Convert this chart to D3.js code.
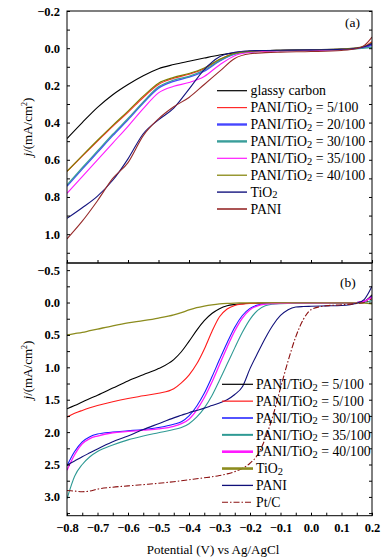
<!DOCTYPE html>
<html>
<head>
<meta charset="utf-8">
<script src="https://cdn.jsdelivr.net/npm/d3@7"></script>
<style>
  body { margin: 0; background: #fff; }
  svg { display: block; }
  svg text { font-family: "Liberation Serif", "Times New Roman", "DejaVu Serif", serif; }
</style>
</head>
<body>
<svg width="383" height="560"></svg>
<script>
// ---- data ----
// panel (a)
let potentialA = [-0.8,-0.75,-0.7,-0.65,-0.6,-0.55,-0.5,-0.45,-0.4,-0.35,-0.3,-0.25,-0.2,-0.15,-0.1,0,0.1,0.15,0.175,0.2];
let glassyA = [0.486,0.40,0.318,0.25,0.195,0.148,0.11,0.088,0.07,0.053,0.037,0.025,0.017,0.013,0.011,0.008,0.005,0.0,-0.005,-0.02];
let pt5A    = [0.662,0.58,0.50,0.42,0.345,0.265,0.195,0.162,0.14,0.11,0.062,0.028,0.018,0.014,0.012,0.009,0.006,0.0,-0.01,-0.035];
let pt20A   = [0.742,0.65,0.56,0.47,0.385,0.295,0.215,0.178,0.156,0.124,0.07,0.032,0.02,0.015,0.013,0.01,0.006,0.0,-0.005,-0.015];
let pt30A   = [0.735,0.643,0.553,0.463,0.378,0.289,0.208,0.172,0.151,0.118,0.067,0.031,0.019,0.015,0.013,0.01,0.007,0.003,0.0,-0.005];
let pt35A   = [0.78,0.69,0.60,0.51,0.42,0.325,0.24,0.205,0.185,0.152,0.09,0.04,0.022,0.017,0.014,0.011,0.007,0.0,-0.008,-0.025];
let pt40A   = [0.662,0.578,0.495,0.415,0.338,0.258,0.188,0.157,0.136,0.106,0.06,0.027,0.017,0.013,0.011,0.008,0.004,-0.002,-0.01,-0.03];
let tio2A   = [0.915,0.858,0.795,0.71,0.595,0.46,0.385,0.322,0.22,0.115,0.046,0.022,0.014,0.012,0.011,0.009,0.006,0.0,-0.008,-0.025];
let paniA   = [1.025,0.93,0.82,0.70,0.615,0.47,0.38,0.315,0.265,0.195,0.125,0.055,0.03,0.024,0.021,0.018,0.012,0.002,-0.015,-0.06];

// panel (b)
let potentialB = [-0.8,-0.775,-0.75,-0.725,-0.7,-0.65,-0.6,-0.55,-0.5,-0.45,-0.425,-0.4,-0.375,-0.35,-0.325,-0.3,-0.275,-0.25,-0.225,-0.2,-0.175,-0.15,-0.125,-0.1,-0.075,-0.05,-0.025,0,0.05,0.1,0.15,0.175,0.2];
let pt5B    = [1.64,1.59,1.535,1.48,1.43,1.32,1.21,1.115,1.02,0.88,0.76,0.6,0.43,0.28,0.17,0.095,0.05,0.03,0.018,0.012,0.01,0.009,0.008,0.008,0.007,0.007,0.006,0.006,0.005,0.004,0.0,-0.02,-0.12];
let pt5bB   = [1.77,1.71,1.665,1.625,1.59,1.53,1.48,1.44,1.4,1.33,1.24,1.12,0.95,0.72,0.45,0.22,0.1,0.045,0.025,0.015,0.012,0.011,0.01,0.01,0.009,0.009,0.008,0.008,0.007,0.005,0.0,-0.02,-0.1];
let pt30B   = [2.52,2.3,2.15,2.07,2.03,2.0,1.98,1.96,1.93,1.88,1.84,1.75,1.6,1.4,1.15,0.88,0.62,0.38,0.2,0.09,0.04,0.02,0.015,0.012,0.011,0.01,0.009,0.008,0.007,0.005,0.0,-0.02,-0.1];
let pt35B   = [3.03,2.68,2.5,2.38,2.3,2.2,2.12,2.06,2.01,1.96,1.93,1.87,1.77,1.63,1.44,1.2,0.95,0.7,0.46,0.26,0.12,0.05,0.025,0.017,0.014,0.013,0.012,0.011,0.01,0.008,0.004,0.0,-0.03];
let pt40B   = [2.59,2.35,2.18,2.1,2.06,2.01,1.99,1.97,1.95,1.91,1.87,1.8,1.66,1.47,1.23,0.96,0.69,0.44,0.24,0.11,0.05,0.025,0.017,0.013,0.011,0.01,0.009,0.008,0.007,0.005,0.0,-0.02,-0.08];
let tio2B   = [0.5,0.48,0.46,0.435,0.41,0.36,0.315,0.28,0.24,0.19,0.155,0.115,0.08,0.055,0.035,0.02,0.012,0.008,0.006,0.005,0.005,0.005,0.005,0.005,0.005,0.005,0.005,0.005,0.005,0.005,0.005,0.008,0.02];
let paniB   = [2.51,2.445,2.38,2.32,2.26,2.15,2.06,1.96,1.87,1.78,1.74,1.7,1.665,1.63,1.59,1.55,1.5,1.42,1.3,1.02,0.78,0.55,0.35,0.2,0.11,0.07,0.062,0.058,0.052,0.045,0.01,-0.05,-0.25];
let ptcB    = [2.9,2.91,2.92,2.91,2.88,2.85,2.83,2.81,2.79,2.765,2.75,2.735,2.72,2.705,2.69,2.67,2.645,2.61,2.56,2.48,2.35,2.1,1.75,1.32,0.9,0.53,0.26,0.11,0.05,0.035,0.015,0.0,-0.06];

let xTicks = [-0.8,-0.7,-0.6,-0.5,-0.4,-0.3,-0.2,-0.1,0.0,0.1,0.2];
let yTicksA = [-0.2,0.0,0.2,0.4,0.6,0.8,1.0];
let yTicksB = [-0.5,0.0,0.5,1.0,1.5,2.0,2.5,3.0];

let seriesA = [
  {name: "glassy carbon", values: glassyA, color: "#000000", lw: 1.2},
  {name: "PANI/TiO2 = 5/100", values: pt5A, color: "#ff2a2a", lw: 1.2},
  {name: "PANI/TiO2 = 20/100", values: pt20A, color: "#4646ff", lw: 2.4},
  {name: "PANI/TiO2 = 30/100", values: pt30A, color: "#3a9e9a", lw: 2.4},
  {name: "PANI/TiO2 = 35/100", values: pt35A, color: "#ff1aff", lw: 1.2},
  {name: "PANI/TiO2 = 40/100", values: pt40A, color: "#7f7f00", lw: 1.2},
  {name: "TiO2", values: tio2A, color: "#14147f", lw: 1.4},
  {name: "PANI", values: paniA, color: "#962a2a", lw: 1.6}
];
let seriesB = [
  {name: "PANI/TiO2 = 5/100", values: pt5B, color: "#000000", lw: 1.2},
  {name: "PANI/TiO2 = 5/100", values: pt5bB, color: "#ff1a1a", lw: 1.2},
  {name: "PANI/TiO2 = 30/100", values: pt30B, color: "#1a1aff", lw: 1.5},
  {name: "PANI/TiO2 = 35/100", values: pt35B, color: "#2f9a94", lw: 2},
  {name: "PANI/TiO2 = 40/100", values: pt40B, color: "#ff1aff", lw: 2.6},
  {name: "TiO2", values: tio2B, color: "#8c8c1e", lw: 2.6},
  {name: "PANI", values: paniB, color: "#10107a", lw: 1.3},
  {name: "Pt/C", values: ptcB, color: "#8b1010", lw: 1.2, dash: "6,2,1.5,2"}
];

// ---- layout ----
let svg = d3.select("svg");
let left = 67, right = 372;
let topA = 11, mid = 263, botB = 515.7;
let serif = "Liberation Serif, Times New Roman, DejaVu Serif, serif";

let xScale = d3.scaleLinear().domain([-0.8, 0.2]).range([left, right]);
let yA = d3.scaleLinear().domain([-0.2, 1.155]).range([topA, mid]);
let yB = d3.scaleLinear().domain([-0.61, 3.29]).range([mid, botB]);

svg.append("rect").attr("width", 383).attr("height", 560).attr("fill", "#fff");

let defs = svg.append("defs");
defs.append("clipPath").attr("id", "clipA").append("rect")
  .attr("x", left).attr("y", topA).attr("width", right - left).attr("height", mid - topA);
defs.append("clipPath").attr("id", "clipB").append("rect")
  .attr("x", left).attr("y", mid).attr("width", right - left).attr("height", botB - mid);

let drawLines = (series, xs, yScale, clip) => {
  let g = svg.append("g").attr("clip-path", `url(#${clip})`);
  let line = d3.line()
    .x((d, i) => xScale(xs[i]))
    .y(d => yScale(d))
    .curve(d3.curveMonotoneX);
  series.forEach(s => {
    g.append("path")
      .attr("d", line(s.values))
      .attr("fill", "none")
      .attr("stroke", s.color)
      .attr("stroke-width", s.lw > 2 ? 1.3 : 1.1)
      .attr("stroke-dasharray", s.dash || null);
  });
};

drawLines(seriesA, potentialA, yA, "clipA");
drawLines(seriesB, potentialB, yB, "clipB");

// ---- axes ----
let fmt = d3.format(".1f");
let tickFont = g => g.attr("font-family", serif).selectAll("text")
  .attr("font-family", serif)
  .attr("font-size", "12.5px")
  .attr("font-weight", "bold")
  .attr("fill", "#000");
let clean = g => { g.select(".domain").remove(); g.selectAll("line").attr("stroke", "#000"); };

// left axes (ticks point inward)
svg.append("g").attr("transform", `translate(${left},0)`)
  .call(d3.axisRight(yA).tickValues(d3.range(-0.2, 1.16, 0.1)).tickSize(3).tickFormat(""))
  .call(clean);
svg.append("g").attr("transform", `translate(${left - 4},0)`)
  .call(d3.axisLeft(yA).tickValues(yTicksA).tickSize(0).tickFormat(fmt))
  .call(g => g.select(".domain").remove())
  .call(tickFont);

svg.append("g").attr("transform", `translate(${left},0)`)
  .call(d3.axisRight(yB).tickValues(d3.range(-0.5, 3.26, 0.25)).tickSize(3).tickFormat(""))
  .call(clean);
svg.append("g").attr("transform", `translate(${left - 4},0)`)
  .call(d3.axisLeft(yB).tickValues(yTicksB).tickSize(0).tickFormat(fmt))
  .call(g => g.select(".domain").remove())
  .call(tickFont);

// right axes
svg.append("g").attr("transform", `translate(${right},0)`)
  .call(d3.axisLeft(yA).tickValues(d3.range(-0.2, 1.16, 0.1)).tickSize(3).tickFormat(""))
  .call(clean);
svg.append("g").attr("transform", `translate(${right},0)`)
  .call(d3.axisLeft(yB).tickValues(d3.range(-0.5, 3.26, 0.25)).tickSize(3).tickFormat(""))
  .call(clean);

// x axes
svg.append("g").attr("transform", `translate(0,${mid})`)
  .call(d3.axisTop(xScale).tickValues(xTicks).tickSize(3).tickFormat(""))
  .call(clean);
svg.append("g").attr("transform", `translate(0,${botB})`)
  .call(d3.axisTop(xScale).tickValues(d3.range(-0.8, 0.21, 0.05)).tickSize(3).tickFormat(""))
  .call(clean);
svg.append("g").attr("transform", `translate(0,${botB + 4})`)
  .call(d3.axisBottom(xScale).tickValues(xTicks).tickSize(0).tickFormat(fmt))
  .call(g => g.select(".domain").remove())
  .call(tickFont);

// frames
svg.append("rect").attr("x", left).attr("y", topA).attr("width", right - left).attr("height", mid - topA)
  .attr("fill", "none").attr("stroke", "#000").attr("stroke-width", 1);
svg.append("rect").attr("x", left).attr("y", mid).attr("width", right - left).attr("height", botB - mid)
  .attr("fill", "none").attr("stroke", "#000").attr("stroke-width", 1);

// axis titles
let yTitle = (cy) => {
  let t = svg.append("text")
    .attr("transform", `translate(32,${cy}) rotate(-90)`)
    .attr("text-anchor", "middle")
    .attr("font-family", serif)
    .attr("font-size", "13px");
  t.append("tspan").attr("font-style", "italic").text("j");
  t.append("tspan").text("/(mA/cm");
  t.append("tspan").attr("font-size", "8px").attr("dy", -5).text("2");
  t.append("tspan").attr("dy", 5).text(")");
};
yTitle(127);
yTitle(370);

svg.append("text").attr("x", 213).attr("y", 554).attr("text-anchor", "middle")
  .attr("font-family", serif).attr("font-size", "13px").text("Potential (V) vs Ag/AgCl");

svg.append("text").attr("x", 345).attr("y", 27).attr("font-family", serif).attr("font-size", "13.5px").text("(a)");
svg.append("text").attr("x", 340).attr("y", 287).attr("font-family", serif).attr("font-size", "13.5px").text("(b)");

// legends
let drawLegend = (series, x0, x1, tx, y0, dy) => {
  series.forEach((s, i) => {
    let y = y0 + i * dy;
    svg.append("line").attr("x1", x0).attr("x2", x1).attr("y1", y).attr("y2", y)
      .attr("stroke", s.color).attr("stroke-width", s.lw)
      .attr("stroke-dasharray", s.dash || null);
    let t = svg.append("text").attr("x", tx).attr("y", y + 4.7)
      .attr("font-family", serif).attr("font-size", "13.8px");
    if (s.name.includes("TiO2")) {
      let parts = s.name.split("TiO2");
      t.append("tspan").text(parts[0] + "TiO");
      t.append("tspan").attr("font-size", "10.5px").attr("dy", 1.5).text("2");
      t.append("tspan").attr("dy", -1.5).text(parts[1]);
    } else {
      t.text(s.name);
    }
  });
};
drawLegend(seriesA, 217, 247, 250.5, 90.7, 16.9);
drawLegend(seriesB, 222, 253, 256, 384.3, 16.85);
</script>
</body>
</html>
